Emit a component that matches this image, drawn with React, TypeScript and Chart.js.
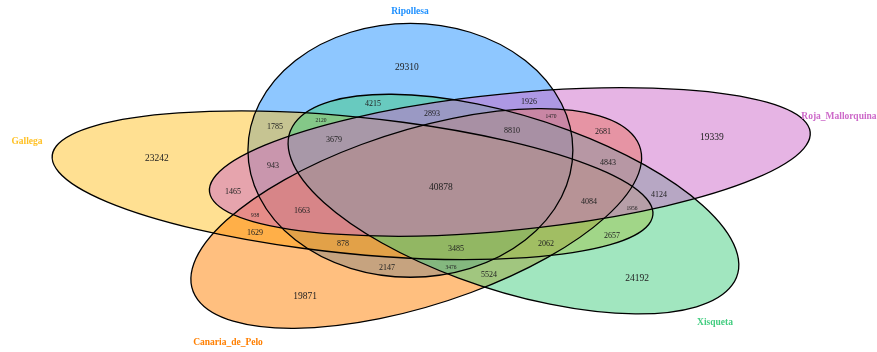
import React, { useEffect, useRef } from 'react';
import { Chart, registerables } from 'chart.js';

Chart.register(...registerables);

// ---- Sets ----
const setNames = ['Ripollesa', 'Gallega', 'Canaria_de_Pelo', 'Xisqueta', 'Roja_Mallorquina'];
const setColors = ['rgb(30,144,255)', 'rgb(255,193,37)', 'rgb(255,127,0)', 'rgb(67,205,128)', 'rgb(205,105,201)'];
const setLabelX = [0.4549, -0.1108, 0.1861, 0.9055, 1.0886];
const setLabelY = [1.1232, 0.6522, -0.0761, -0.0036, 0.7428];

// ---- Ellipse layout (unit-square coordinates) ----
const ellipseCenterAngle = [110, 182, 254, 326, 38];
const ellipseRotation = [90, 162, 234, 306, 18];
const ellipseDist = 0.13;
const ellipseMajor = 0.46;
const ellipseMinor = 0.24;

// ---- Region counts and label positions ----
const regionCounts = [
  29310, 23242, 19871, 24192, 19339,
  4215, 1926, 2893, 2120, 1470,
  1785, 2681, 8810, 3679, 943,
  4843, 40878, 1465, 4124, 4084,
  1663, 938, 1956, 1629, 2657,
  878, 3485, 2062, 2147, 3476, 5524,
];
const regionX = [
  0.4505, 0.0812, 0.2999, 0.7903, 0.9010,
  0.4003, 0.6307, 0.4874, 0.3235, 0.6632,
  0.2555, 0.7400, 0.6056, 0.3427, 0.2526,
  0.7474, 0.5007, 0.1935, 0.8227, 0.7194,
  0.2954, 0.2260, 0.7829, 0.2260, 0.7533,
  0.3560, 0.5229, 0.6558, 0.4210, 0.5155, 0.5716,
];
const regionY = [
  0.9239, 0.5906, 0.0906, 0.1594, 0.6703,
  0.7899, 0.7971, 0.7536, 0.7283, 0.7428,
  0.7065, 0.6884, 0.6920, 0.6594, 0.5652,
  0.5761, 0.4891, 0.4710, 0.4601, 0.4348,
  0.4022, 0.3841, 0.4094, 0.3225, 0.3116,
  0.2826, 0.2645, 0.2826, 0.1957, 0.1957, 0.1703,
];
// 2 = large, 1 = normal, 0 = small
const regionSizeClass = [
  2, 2, 2, 2, 2,
  1, 1, 1, 0, 0,
  1, 1, 1, 1, 1,
  1, 2, 1, 1, 1,
  1, 0, 0, 1, 1,
  1, 1, 1, 1, 0, 1,
];

const FONT = '"Liberation Serif", "DejaVu Serif", serif';
const SIZE_PX = [5.5, 8, 9.5];

const vennPlugin = {
  id: 'vennEllipses',
  beforeDatasetsDraw(chart: any) {
    const { ctx, scales } = chart;
    const xs = scales.x;
    const ys = scales.y;
    const sx = xs.getPixelForValue(1) - xs.getPixelForValue(0);
    const sy = ys.getPixelForValue(0) - ys.getPixelForValue(1);
    const buildPath = (i: number) => {
      const ang = (ellipseCenterAngle[i] * Math.PI) / 180;
      const cu = 0.5 + ellipseDist * Math.cos(ang);
      const cv = 0.5 + ellipseDist * Math.sin(ang);
      const px = xs.getPixelForValue(cu);
      const py = ys.getPixelForValue(cv);
      ctx.save();
      ctx.translate(px, py);
      ctx.scale(sx, -sy);
      ctx.beginPath();
      ctx.ellipse(0, 0, ellipseMajor, ellipseMinor, (ellipseRotation[i] * Math.PI) / 180, 0, Math.PI * 2);
      ctx.restore();
    };
    ctx.save();
    for (let i = 0; i < setNames.length; i++) {
      buildPath(i);
      ctx.globalAlpha = 0.5;
      ctx.fillStyle = setColors[i];
      ctx.fill();
    }
    ctx.globalAlpha = 1;
    ctx.strokeStyle = '#000';
    ctx.lineWidth = 1.3;
    for (let i = 0; i < setNames.length; i++) {
      buildPath(i);
      ctx.stroke();
    }
    ctx.restore();
  },
  afterDatasetsDraw(chart: any) {
    const { ctx } = chart;
    ctx.save();
    ctx.textAlign = 'center';
    ctx.textBaseline = 'middle';
    const regMeta = chart.getDatasetMeta(0);
    regMeta.data.forEach((pt: any, i: number) => {
      ctx.font = `${SIZE_PX[regionSizeClass[i]]}px ${FONT}`;
      ctx.fillStyle = '#222';
      ctx.fillText(String(regionCounts[i]), pt.x, pt.y);
    });
    const setMeta = chart.getDatasetMeta(1);
    setMeta.data.forEach((pt: any, i: number) => {
      ctx.font = `bold 9.5px ${FONT}`;
      ctx.fillStyle = setColors[i];
      ctx.fillText(setNames[i], pt.x, pt.y);
    });
    ctx.restore();
  },
};

export default function App() {
  const canvasRef = useRef<HTMLCanvasElement | null>(null);

  useEffect(() => {
    document.body.style.margin = '0';
    const canvas = canvasRef.current;
    if (!canvas) return;
    const chart = new Chart(canvas, {
      type: 'scatter',
      data: {
        datasets: [
          {
            label: 'regions',
            data: regionX.map((x, i) => ({ x, y: regionY[i] })),
            pointRadius: 0,
            showLine: false,
          },
          {
            label: 'sets',
            data: setLabelX.map((x, i) => ({ x, y: setLabelY[i] })),
            pointRadius: 0,
            showLine: false,
          },
        ],
      },
      options: {
        responsive: false,
        animation: false,
        events: [],
        layout: { padding: 0 },
        plugins: {
          legend: { display: false },
          tooltip: { enabled: false },
          title: { display: false },
        },
        scales: {
          x: { type: 'linear', display: false, min: -0.1507, max: 1.1448 },
          y: { type: 'linear', display: false, min: -0.1087, max: 1.1667 },
        },
      },
      plugins: [vennPlugin],
    });
    return () => chart.destroy();
  }, []);

  return (
    <div style={{ width: 877, height: 352, position: 'relative', background: '#fff' }}>
      <canvas ref={canvasRef} width={877} height={352} style={{ display: 'block' }} />
    </div>
  );
}
